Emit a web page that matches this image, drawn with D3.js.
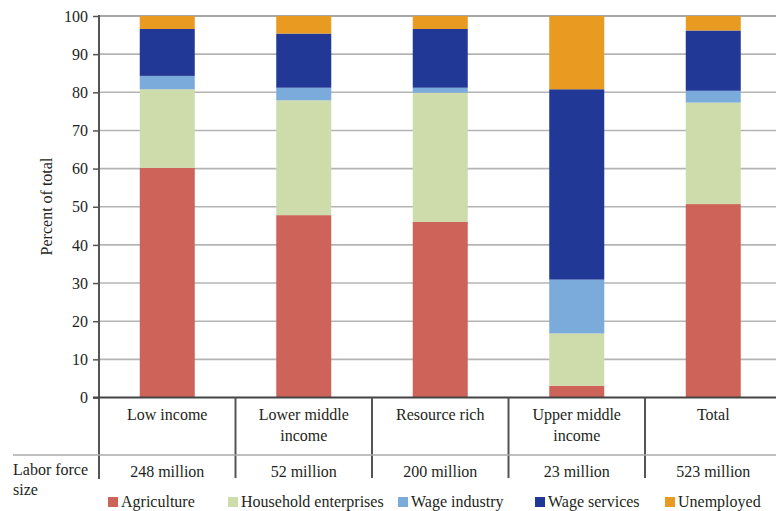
<!DOCTYPE html>
<html><head><meta charset="utf-8">
<script src="https://cdn.jsdelivr.net/npm/d3@7"></script>
<style>body{margin:0;background:#fff}svg{display:block}</style>
</head><body>
<svg id="c" width="776" height="511"></svg>
<script>
const categories = [["Low income"], ["Lower middle", "income"], ["Resource rich"], ["Upper middle", "income"], ["Total"]];
const laborForce = ["248 million", "52 million", "200 million", "23 million", "523 million"];
const seriesNames = ["Agriculture", "Household enterprises", "Wage industry", "Wage services", "Unemployed"];
const agriculture = [60.2, 47.8, 46.0, 3.1, 50.7];
const household = [20.6, 30.1, 33.9, 13.7, 26.6];
const wageIndustry = [3.5, 3.3, 1.3, 14.1, 3.1];
const wageServices = [12.3, 14.2, 15.4, 49.9, 15.8];
const unemployed = [3.4, 4.6, 3.4, 19.2, 3.8];
const yTicks = [0, 10, 20, 30, 40, 50, 60, 70, 80, 90, 100];
const colors = ["#cd6359", "#cedcab", "#7aabda", "#213896", "#e99a20"];

const FONT = "Liberation Serif";
const TXT = "#231f20";
const svg = d3.select("#c");
const catKeys = categories.map(c => c.join(" "));
const x = d3.scaleBand().domain(catKeys).range([99, 781.5]).paddingInner(0.597).paddingOuter(0.2985);
const y = d3.scaleLinear().domain([0, 100]).range([397.5, 16]);

const rows = catKeys.map((k, i) => ({
  key: k, Agriculture: agriculture[i], "Household enterprises": household[i],
  "Wage industry": wageIndustry[i], "Wage services": wageServices[i], Unemployed: unemployed[i]
}));
const stack = d3.stack().keys(seriesNames)(rows);

// gridlines
svg.append("g").selectAll("line").data(yTicks.filter(t => t > 0)).join("line")
  .attr("x1", 99).attr("x2", 776).attr("y1", d => y(d)).attr("y2", d => y(d))
  .attr("stroke", d => d === 100 ? "#8a8a8a" : "#b4b4b4").attr("stroke-width", 1.6);

// bars
svg.append("g").selectAll("g").data(stack).join("g").attr("fill", (d, i) => colors[i])
  .selectAll("rect").data(d => d).join("rect")
  .attr("x", d => x(d.data.key)).attr("width", x.bandwidth())
  .attr("y", d => y(d[1])).attr("height", d => y(d[0]) - y(d[1]));

// y axis
const ax = svg.append("g").attr("transform", "translate(99,0)")
  .call(d3.axisLeft(y).tickValues(yTicks).tickSize(6).tickPadding(5));
ax.select(".domain").remove();
ax.selectAll(".tick line").attr("stroke", "#555").attr("stroke-width", 1.5);
ax.selectAll(".tick text").attr("font-family", FONT).attr("font-size", 16).attr("fill", TXT);
svg.append("line").attr("x1", 99).attr("x2", 99).attr("y1", 15).attr("y2", 479).attr("stroke", "#555").attr("stroke-width", 2);
// zero line
svg.append("line").attr("x1", 93).attr("x2", 776).attr("y1", y(0)).attr("y2", y(0)).attr("stroke", "#444").attr("stroke-width", 2);

svg.append("text").attr("transform", "translate(52,206.5) rotate(-90)").attr("text-anchor", "middle")
  .attr("font-family", FONT).attr("fill", TXT).attr("font-size", 16).text("Percent of total");

// table
const step = x.step();
const x0 = x.range()[0];
svg.append("g").selectAll("line").data(d3.range(1, 5)).join("line")
  .attr("x1", d => x0 + d * step).attr("x2", d => x0 + d * step)
  .attr("y1", y(0)).attr("y2", 478).attr("stroke", "#555").attr("stroke-width", 2);
svg.append("line").attr("x1", 13).attr("x2", 776).attr("y1", 455).attr("y2", 455).attr("stroke", "#aaa").attr("stroke-width", 1.5);

const lab = svg.append("g").selectAll("text").data(categories).join("text")
  .attr("text-anchor", "middle").attr("font-size", 16).attr("font-family", FONT).attr("fill", TXT)
  .attr("x", (d, i) => x(catKeys[i]) + x.bandwidth() / 2).attr("y", 420);
lab.selectAll("tspan").data(d => d).join("tspan")
  .attr("x", function() { return this.parentNode.getAttribute("x"); })
  .attr("dy", (d, i) => i === 0 ? 0 : 20.5).text(d => d);

svg.append("g").selectAll("text").data(laborForce).join("text")
  .attr("text-anchor", "middle").attr("font-size", 16).attr("font-family", FONT).attr("fill", TXT)
  .attr("x", (d, i) => x(catKeys[i]) + x.bandwidth() / 2).attr("y", 477).text(d => d);

svg.append("text").attr("x", 13).attr("y", 475).attr("font-size", 16).attr("font-family", FONT).attr("fill", TXT).text("Labor force");
svg.append("text").attr("x", 13).attr("y", 495).attr("font-size", 16).attr("font-family", FONT).attr("fill", TXT).text("size");

// legend
const legX = [108, 228, 398, 535, 665];
const leg = svg.append("g").selectAll("g").data(seriesNames).join("g")
  .attr("transform", (d, i) => `translate(${legX[i]},0)`);
leg.append("rect").attr("x", 0).attr("y", 497).attr("width", 10).attr("height", 10).attr("fill", (d, i) => colors[i]);
leg.append("text").attr("x", 13).attr("y", 507).attr("font-size", 16).attr("font-family", FONT).attr("fill", TXT).text(d => d);
</script>
</body></html>
